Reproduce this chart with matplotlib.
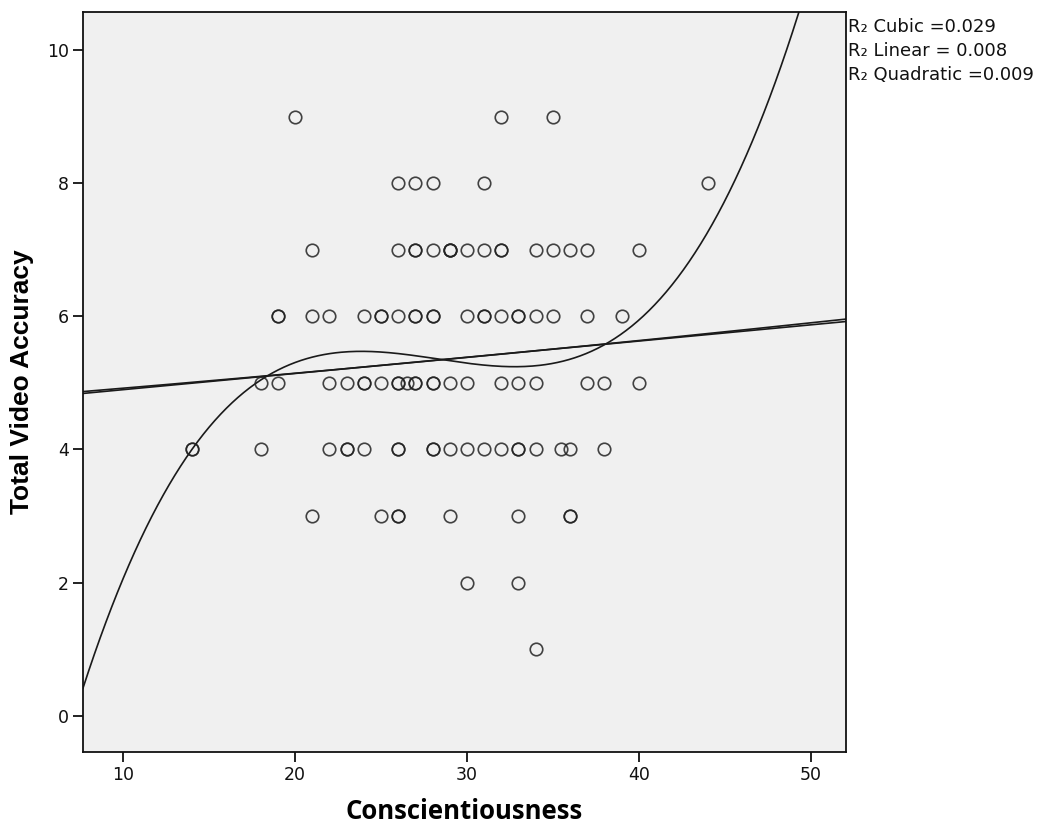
import numpy as np
import matplotlib.pyplot as plt

# Conscientiousness scores grouped by Total Video Accuracy
acc_9 = [20, 32, 35]
acc_8 = [26, 27, 28, 31, 44]
acc_7 = [21, 26, 27, 27, 28, 29, 29, 29, 30, 31, 32, 32, 34, 35, 36, 37, 40]
acc_6 = [19, 19, 21, 22, 24, 25, 25, 26, 27, 27, 28, 28, 30, 31, 31, 32, 33, 33,
         34, 35, 37, 39]
acc_5 = [18, 19, 22, 23, 24, 24, 25, 26, 26, 26.5, 27, 27, 28, 28, 29, 30, 32,
         33, 34, 37, 38, 40]
acc_4 = [14, 14, 18, 22, 23, 23, 24, 26, 26, 28, 28, 29, 30, 31, 32, 33, 33, 34,
         35.5, 36, 38]
acc_3 = [21, 25, 26, 26, 29, 33, 36, 36]
acc_2 = [30, 33]
acc_1 = [34]

groups = {9: acc_9, 8: acc_8, 7: acc_7, 6: acc_6, 5: acc_5,
          4: acc_4, 3: acc_3, 2: acc_2, 1: acc_1}

x = np.array([c for v, cs in groups.items() for c in cs], dtype=float)
y = np.array([v for v, cs in groups.items() for c in cs], dtype=float)

x_ticks = [10, 20, 30, 40, 50]
y_ticks = [0, 2, 4, 6, 8, 10]
legend_lines = ["R\u2082 Cubic =0.029", "R\u2082 Linear = 0.008",
                "R\u2082 Quadratic =0.009"]

fig = plt.figure(figsize=(10.42, 8.27), dpi=100)
ax = fig.add_axes([83 / 1042, 1 - 752 / 827, (846 - 83) / 1042, (752 - 12) / 827])
ax.set_facecolor('#f0f0f0')

xlim = (7.67, 52.05)
ylim = (-0.545, 10.57)

# fitted curves (linear, quadratic, cubic)
xs = np.linspace(xlim[0], xlim[1], 400)
for deg in (1, 2, 3):
    coef = np.polyfit(x, y, deg)
    ax.plot(xs, np.polyval(coef, xs), color='#1a1a1a', linewidth=1.2)

ax.plot(x, y, linestyle='none', marker='o', markersize=9,
        markerfacecolor='none', markeredgecolor='#222222', markeredgewidth=1.2,
        alpha=0.85)

ax.set_xlim(*xlim)
ax.set_ylim(*ylim)
ax.set_xticks(x_ticks)
ax.set_yticks(y_ticks)
ax.tick_params(direction='out', length=7, width=1.3, labelsize=12.5,
               colors='#111111', top=False, right=False, pad=3)
for sp in ax.spines.values():
    sp.set_linewidth(1.3)
    sp.set_color('#111111')

ax.set_xlabel('Conscientiousness', fontsize=18.5, fontweight='bold',
              family='Open Sans', labelpad=10)
ax.set_ylabel('Total Video Accuracy', fontsize=19, fontweight='bold',
              family='Liberation Sans', va='center')
ax.yaxis.set_label_coords(-0.08, 0.5)

for i, t in enumerate(legend_lines):
    fig.text(848 / 1042, 1 - (27 + 24 * i) / 827, t, fontsize=13,
             va='center', ha='left', color='#111111')

fig.savefig('out.png', dpi=100)
